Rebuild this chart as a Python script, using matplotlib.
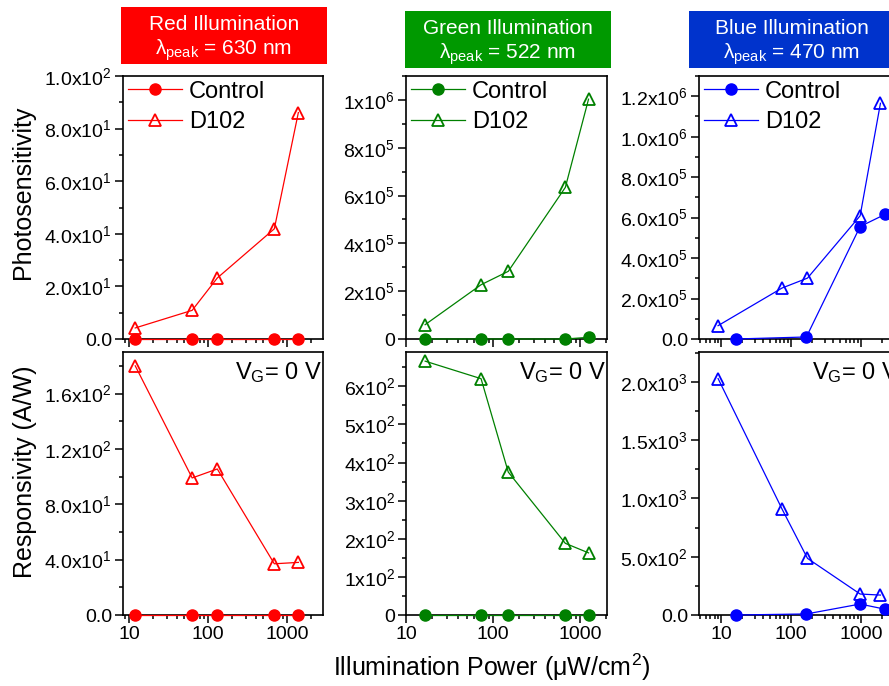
import math
import matplotlib
matplotlib.use("Agg")
import matplotlib.pyplot as plt
from matplotlib.patches import Rectangle
from matplotlib.ticker import FuncFormatter, LogLocator, MultipleLocator, NullFormatter, FixedLocator

plt.rcParams['font.family'] = ['Liberation Sans', 'DejaVu Sans']
plt.rcParams['mathtext.fontset'] = 'custom'
plt.rcParams['mathtext.rm'] = 'Liberation Sans'
plt.rcParams['mathtext.it'] = 'Liberation Sans:italic'
plt.rcParams['mathtext.bf'] = 'Liberation Sans:bold'

# ---- data ----
red_x = [12, 63, 131, 690, 1390]
red_ctrl_ps = [0, 0, 0, 0, 0]
red_d102_ps = [4.2, 10.9, 23.2, 41.9, 86.1]
red_ctrl_r = [0, 0, 0, 0, 0]
red_d102_r = [180, 99, 105.5, 37, 38]

green_x = [16.6, 73, 150, 680, 1257]
green_ctrl_ps = [0, 0, 0, 0, 7e3]
green_d102_ps = [6.0e4, 2.27e5, 2.83e5, 6.34e5, 1.003e6]
green_ctrl_r = [0, 0, 0, 0, 0]
green_d102_r = [666, 620, 375, 188, 163]

blue_x_d102 = [9, 74, 171, 968, 1890]
blue_x_ctrl = [16, 165, 968, 2230]
blue_ctrl_ps = [0, 1.0e4, 5.56e5, 6.17e5]
blue_d102_ps = [6.6e4, 2.52e5, 3.01e5, 6.09e5, 1.165e6]
blue_ctrl_r = [0, 9, 94, 49]
blue_d102_r = [2029, 909, 486, 180, 171]

titles = ['Red Illumination', 'Green Illumination', 'Blue Illumination']
peaks = ['630', '522', '470']
box_colors = ['#FF0000', '#009900', '#0033CC']
line_colors = ['#FF0000', '#008000', '#0000FF']

W, H = 889, 686
fig = plt.figure(figsize=(W / 100, H / 100), dpi=100)


def sci_fmt(dec):
    def f(v, pos):
        if abs(v) < 1e-12:
            return '0.0' if dec else '0'
        e = int(math.floor(math.log10(abs(v)) + 1e-9))
        m = v / 10 ** e
        return f'{m:.{dec}f}x10$^{{\\mathregular{{{e}}}}}$'
    return FuncFormatter(f)


def style(ax, xlim, ylim, ymaj, dec, bottom_labels):
    ax.set_xscale('log')
    ax.set_xlim(*xlim)
    ax.set_ylim(*ylim)
    ax.xaxis.set_major_locator(FixedLocator([10, 100, 1000]))
    ax.xaxis.set_minor_locator(LogLocator(base=10, subs=range(2, 10), numticks=20))
    ax.xaxis.set_minor_formatter(NullFormatter())
    ax.xaxis.set_major_formatter(FuncFormatter(lambda v, p: f'{v:g}'))
    ax.yaxis.set_major_locator(MultipleLocator(ymaj))
    ax.yaxis.set_minor_locator(MultipleLocator(ymaj / 2))
    ax.yaxis.set_major_formatter(sci_fmt(dec))
    ax.tick_params(which='both', direction='out', top=False, right=False,
                   width=1.1, labelsize=14, pad=2)
    ax.tick_params(which='major', length=6)
    ax.tick_params(which='minor', length=3)
    if not bottom_labels:
        ax.tick_params(axis='x', labelbottom=False)
    for s in ax.spines.values():
        s.set_linewidth(1.2)


def draw(ax, xc, yc, xd, yd, c, legend):
    ax.plot(xc, yc, '-o', color=c, lw=0.9, ms=8, label='Control', clip_on=False, zorder=3)
    ax.plot(xd, yd, '-^', color=c, lw=0.9, ms=9, mfc='none', mew=1.3, label='D102',
            clip_on=False, zorder=3)
    if legend:
        ax.legend(loc='upper left', frameon=False, fontsize=17, handlelength=2.3,
                  handletextpad=0.3, labelspacing=0.35, borderaxespad=0.1,
                  borderpad=0.1)


cols = [(123, 323, (8.4, 2850)), (406, 607, (10, 2050)), (699, 900, (4.8, 3600))]
top_y = (76, 339)
bot_y = (352, 615)

top_data = [
    (red_x, red_ctrl_ps, red_x, red_d102_ps, (0, 100), 20, 1),
    (green_x, green_ctrl_ps, green_x, green_d102_ps, (0, 1.1e6), 2e5, 0),
    (blue_x_ctrl, blue_ctrl_ps, blue_x_d102, blue_d102_ps, (0, 1.3e6), 2e5, 1),
]
bot_data = [
    (red_x, red_ctrl_r, red_x, red_d102_r, (0, 190), 40, 1),
    (green_x, green_ctrl_r, green_x, green_d102_r, (0, 690), 100, 0),
    (blue_x_ctrl, blue_ctrl_r, blue_x_d102, blue_d102_r, (0, 2257), 500, 1),
]

for i, (x0, x1, xlim) in enumerate(cols):
    c = line_colors[i]
    ax_t = fig.add_axes([x0 / W, 1 - top_y[1] / H, (x1 - x0) / W, (top_y[1] - top_y[0]) / H])
    xc, yc, xd, yd, ylim, ymaj, dec = top_data[i]
    draw(ax_t, xc, yc, xd, yd, c, True)
    style(ax_t, xlim, ylim, ymaj, dec, False)

    ax_b = fig.add_axes([x0 / W, 1 - bot_y[1] / H, (x1 - x0) / W, (bot_y[1] - bot_y[0]) / H])
    xc, yc, xd, yd, ylim, ymaj, dec = bot_data[i]
    draw(ax_b, xc, yc, xd, yd, c, False)
    style(ax_b, xlim, ylim, ymaj, dec, True)
    ax_b.text(0.995, 0.92, 'V$_{\\mathregular{G}}$= 0 V', transform=ax_b.transAxes,
              ha='right', va='center', fontsize=17)

# title boxes
boxes = [(121, 7, 206, 57), (405, 11, 206, 57), (689, 11, 206, 57)]
for i, (bx, by, bw, bh) in enumerate(boxes):
    fig.add_artist(Rectangle((bx / W, 1 - (by + bh) / H), bw / W, bh / H,
                             transform=fig.transFigure, color=box_colors[i], lw=0))
    cx = (bx + bw / 2) / W
    fig.text(cx, 1 - (by + 17) / H, titles[i], color='white', fontsize=15,
             ha='center', va='center')
    fig.text(cx, 1 - (by + 43) / H, 'λ$_{\\mathregular{peak}}$ = ' + peaks[i] + ' nm',
             color='white', fontsize=15, ha='center', va='center')

fig.text(23 / W, 1 - 192 / H, 'Photosensitivity', rotation=90, fontsize=18,
         ha='center', va='center')
fig.text(25 / W, 1 - 472 / H, 'Responsivity (A/W)', rotation=90, fontsize=18,
         ha='center', va='center')
fig.text(492 / W, 1 - 667 / H, 'Illumination Power (μW/cm$^{\\mathregular{2}}$)',
         fontsize=18, ha='center', va='center')

fig.savefig('out.png', dpi=100)
